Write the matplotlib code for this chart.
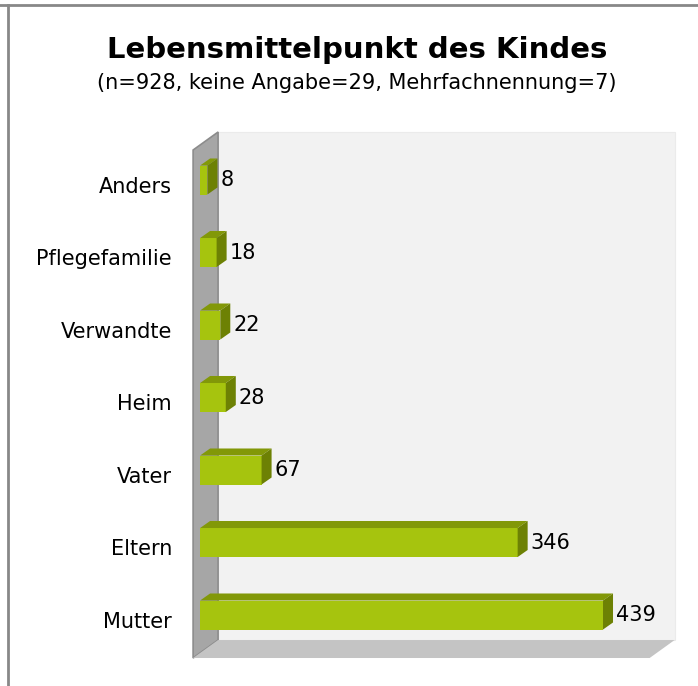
import matplotlib.pyplot as plt
from matplotlib.patches import Polygon
from matplotlib.lines import Line2D

# Daten
kategorien = ['Mutter', 'Eltern', 'Vater', 'Heim', 'Verwandte', 'Pflegefamilie', 'Anders']
werte = [439, 346, 67, 28, 22, 18, 8]

titel = 'Lebensmittelpunkt des Kindes'
untertitel = '(n=928, keine Angabe=29, Mehrfachnennung=7)'

# Farben
FRONT = '#a6c40e'
OBEN = '#829808'
SEITE = '#6d8104'
WAND = '#a6a6a6'
BODEN = '#c4c4c4'
HINTEN = '#f2f2f2'

fig = plt.figure(figsize=(6.98, 6.86), dpi=100)
ax = fig.add_axes([0, 0, 1, 1])
ax.set_xlim(-218, 542.5)
ax.set_ylim(-0.979, 8.483)
ax.axis('off')

# 3D-Versatz
dx, dy = 10.9, 0.097    # Balkentiefe
wx, wy = 27.2, 0.248    # Tiefe von Wand und Boden
x0, yb, yt, xr = -7.6, -0.593, 6.414, 517

# Rueckwand
ax.add_patch(Polygon([(x0 + wx, yb + wy), (x0 + wx, yt + wy), (xr, yt + wy), (xr, yb + wy)],
                     closed=True, fc=HINTEN, ec='#ebebeb', lw=0.8))
# Seitenwand
ax.add_patch(Polygon([(x0, yb), (x0, yt), (x0 + wx, yt + wy), (x0 + wx, yb + wy)],
                     closed=True, fc=WAND, ec='#8c8c8c', lw=1.2))
# Boden
ax.add_patch(Polygon([(x0, yb), (x0 + wx, yb + wy), (xr, yb + wy), (xr - wx, yb)],
                     closed=True, fc=BODEN, ec='none'))

h = 0.2
for i, (kat, v) in enumerate(zip(kategorien, werte)):
    ax.add_patch(Polygon([(0, i - h), (v, i - h), (v, i + h), (0, i + h)],
                         closed=True, fc=FRONT, ec='none'))
    ax.add_patch(Polygon([(0, i + h), (v, i + h), (v + dx, i + h + dy), (dx, i + h + dy)],
                         closed=True, fc=OBEN, ec='none'))
    ax.add_patch(Polygon([(v, i - h), (v, i + h), (v + dx, i + h + dy), (v + dx, i - h + dy)],
                         closed=True, fc=SEITE, ec='none'))
    ax.text(v + dx + 3, i, str(v), ha='left', va='center', fontsize=15, color='black')
    ax.text(-30.5, i - 0.09, kat, ha='right', va='center', fontsize=15, color='black')

ax.text(171, 7.79, titel, ha='center', va='center', fontsize=21, fontweight='bold')
ax.text(171, 7.34, untertitel, ha='center', va='center', fontsize=15)

# Rahmen (oben und links)
fig.add_artist(Line2D([0, 1], [1 - 5 / 686, 1 - 5 / 686], color='#888888', lw=2))
fig.add_artist(Line2D([8 / 698, 8 / 698], [0, 1 - 5 / 686], color='#888888', lw=2))

fig.savefig('out.png', dpi=100)
